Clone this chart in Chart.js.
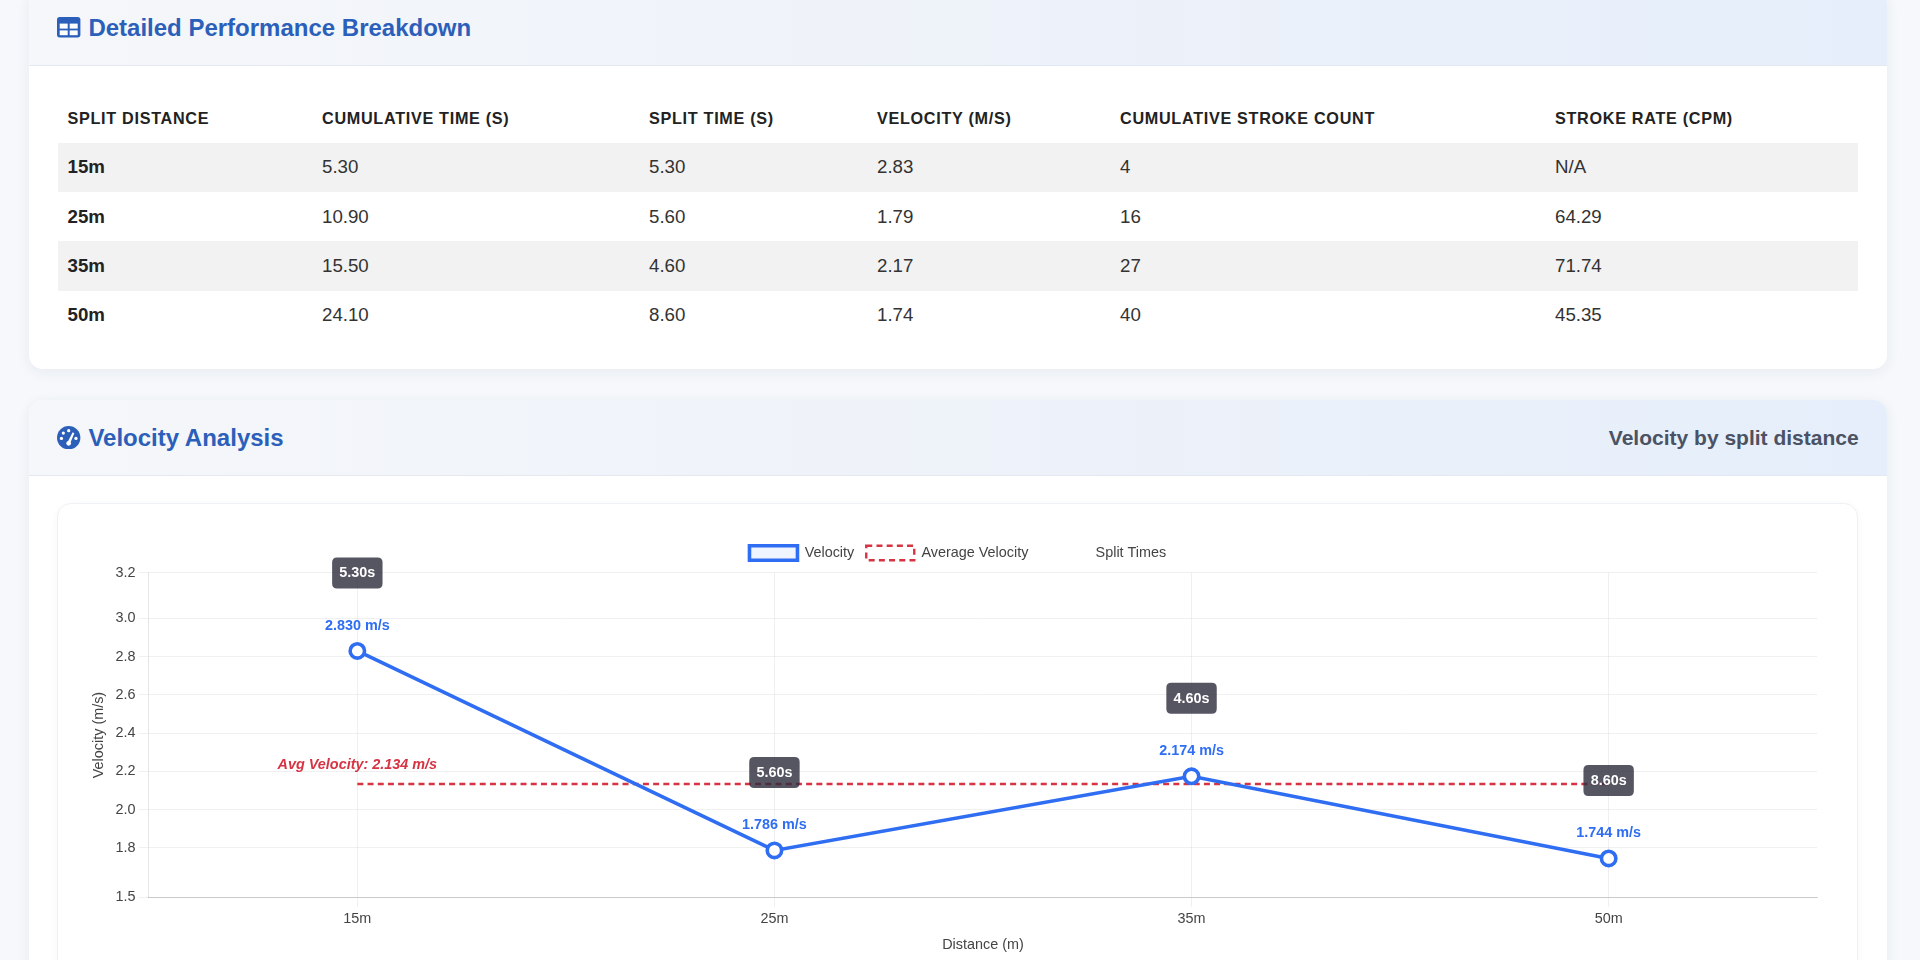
<!DOCTYPE html>
<html>
<head>
<meta charset="utf-8">
<title>Velocity Analysis</title>
<script src="https://cdn.jsdelivr.net/npm/chart.js@4.4.0/dist/chart.umd.min.js"></script>
<style>
  * { box-sizing: border-box; }
  html, body { margin: 0; padding: 0; width: 1920px; height: 960px; overflow: hidden; background: #f6f8fb;
    font-family: "Liberation Sans", Arial, Helvetica, sans-serif; }
  .card { position: absolute; left: 29px; width: 1858px; background: #fff; border-radius: 14px;
    box-shadow: 0 3px 14px rgba(30, 50, 90, 0.07); overflow: hidden; }
  .card-header { height: 76px; border-bottom: 1px solid #e3e8f1;
    background: linear-gradient(90deg, #f5f7fa 0%, #eef2f9 50%, #e5eefa 100%);
    display: flex; align-items: center; justify-content: space-between; padding: 0 28.4px; }
  .card-title { display: flex; align-items: center; margin: 0; font-size: 24px; font-weight: bold; color: #2c5fb9; }
  .card-title svg { margin-right: 7.6px; display: block; }
  .card-sub { font-size: 21px; font-weight: bold; color: #4a5263; }
  #card1 { top: -10px; height: 379.3px; }
  #card2 { top: 400px; height: 700px; }
  table { position: absolute; left: 29px; top: 103.5px; width: 1800px; border-collapse: collapse; table-layout: fixed; }
  th, td { text-align: left; padding: 0 0 0 9.5px; height: 49.3px; white-space: nowrap; }
  th { font-size: 16.2px; font-weight: bold; letter-spacing: 0.7px; text-transform: uppercase; color: #222; }
  td { font-size: 18.7px; color: #333; }
  td.first { font-weight: bold; color: #222; }
  tbody tr:nth-child(odd) { background: #f2f2f2; }
  .chart-box { position: absolute; left: 28px; top: 103.3px; width: 1801.3px; height: 600px; background: #fff;
    border: 1px solid #eef1f5; border-radius: 14px; box-shadow: 0 2px 10px rgba(20, 40, 80, 0.035); }
  .chart-wrap { position: absolute; left: 56.8px; top: 132.1px; width: 1743.7px; height: 430px; }
</style>
</head>
<body>

<div class="card" id="card1">
  <div class="card-header">
    <h2 class="card-title">
      <svg width="23.4" height="20.6" viewBox="0 0 234 206">
        <rect x="0" y="0" width="234" height="206" rx="28" fill="#2c5fb9"/>
        <rect x="27" y="66" width="80" height="50" fill="#fff"/>
        <rect x="127" y="66" width="80" height="50" fill="#fff"/>
        <rect x="27" y="134" width="80" height="48" fill="#fff"/>
        <rect x="127" y="134" width="80" height="48" fill="#fff"/>
      </svg>
      Detailed Performance Breakdown
    </h2>
  </div>
  <table id="perfTable">
    <colgroup>
      <col style="width:254.5px"><col style="width:327px"><col style="width:228px">
      <col style="width:243px"><col style="width:435px"><col style="width:312.5px">
    </colgroup>
    <thead><tr id="headRow"></tr></thead>
    <tbody id="bodyRows"></tbody>
  </table>
</div>

<div class="card" id="card2">
  <div class="card-header">
    <h2 class="card-title">
      <svg width="23.4" height="23.4" viewBox="0 0 100 100">
        <circle cx="50" cy="50" r="50" fill="#2c5fb9"/>
        <circle cx="50" cy="20" r="7" fill="#fff"/>
        <circle cx="27" cy="30" r="7" fill="#fff"/>
        <circle cx="19" cy="53" r="7" fill="#fff"/>
        <circle cx="81" cy="53" r="7" fill="#fff"/>
        <path d="M44 72 L67 27 L74 31 L56 75 Z" fill="#fff"/>
        <circle cx="50" cy="74" r="10" fill="#fff"/>
      </svg>
      Velocity Analysis
    </h2>
    <div class="card-sub">Velocity by split distance</div>
  </div>
  <div class="chart-box"></div>
  <div class="chart-wrap"><canvas id="velocityChart"></canvas></div>
</div>

<script>
// ---------- Data ----------
const categories = ['15m', '25m', '35m', '50m'];
const velocities = [2.830, 1.786, 2.174, 1.744];
const avgVelocity = 2.134;
const avgVelocityLine = [2.134, 2.134, 2.134, 2.134];
const splitTimes = [5.30, 5.60, 4.60, 8.60];
const cumulativeTimes = [5.30, 10.90, 15.50, 24.10];
const strokeCounts = [4, 16, 27, 40];
const strokeRates = ['N/A', '64.29', '71.74', '45.35'];
const tableHeaders = ['Split Distance', 'Cumulative Time (s)', 'Split Time (s)', 'Velocity (m/s)', 'Cumulative Stroke Count', 'Stroke Rate (cpm)'];
const yMin = 1.54;
const yMax = 3.24;
const yStep = 0.2;

// ---------- Table ----------
const headRow = document.getElementById('headRow');
tableHeaders.forEach(h => { const th = document.createElement('th'); th.textContent = h; headRow.appendChild(th); });
const bodyRows = document.getElementById('bodyRows');
categories.forEach((c, i) => {
  const tr = document.createElement('tr');
  const cells = [c, cumulativeTimes[i].toFixed(2), splitTimes[i].toFixed(2), velocities[i].toFixed(2), String(strokeCounts[i]), strokeRates[i]];
  cells.forEach((v, j) => {
    const td = document.createElement('td');
    td.textContent = v;
    if (j === 0) td.className = 'first';
    tr.appendChild(td);
  });
  bodyRows.appendChild(tr);
});

// ---------- Chart ----------
const BLUE = '#2f6df3';
const RED = '#d63343';
const FONT = '"Liberation Sans", Arial, Helvetica, sans-serif';
Chart.defaults.font.family = FONT;
Chart.defaults.font.size = 14.4;
Chart.defaults.color = '#454545';

const legendSpacer = {
  id: 'legendSpacer',
  afterInit(chart) {
    const lg = chart.legend;
    if (lg && !lg._patched) {
      const f = lg.fit;
      lg.fit = function () { f.call(this); this.height += 2.4; };
      lg._patched = true;
    }
  }
};

function roundRect(ctx, x, y, w, h, r) {
  ctx.beginPath();
  ctx.moveTo(x + r, y);
  ctx.lineTo(x + w - r, y);
  ctx.quadraticCurveTo(x + w, y, x + w, y + r);
  ctx.lineTo(x + w, y + h - r);
  ctx.quadraticCurveTo(x + w, y + h, x + w - r, y + h);
  ctx.lineTo(x + r, y + h);
  ctx.quadraticCurveTo(x, y + h, x, y + h - r);
  ctx.lineTo(x, y + r);
  ctx.quadraticCurveTo(x, y, x + r, y);
  ctx.closePath();
}

const labelPlugin = {
  id: 'valueLabels',
  afterDatasetsDraw(chart) {
    const ctx = chart.ctx;
    const velMeta = chart.getDatasetMeta(0);
    const avgMeta = chart.getDatasetMeta(1);
    ctx.save();
    ctx.textAlign = 'center';
    ctx.textBaseline = 'middle';
    // average label
    const a0 = avgMeta.data[0];
    ctx.font = 'italic bold 14.4px ' + FONT;
    ctx.fillStyle = RED;
    ctx.fillText('Avg Velocity: ' + avgVelocity.toFixed(3) + ' m/s', a0.x, a0.y - 18.7);
    velMeta.data.forEach((pt, i) => {
      ctx.font = 'bold 14.4px ' + FONT;
      ctx.fillStyle = BLUE;
      ctx.fillText(velocities[i].toFixed(3) + ' m/s', pt.x, pt.y - 25);
      const txt = splitTimes[i].toFixed(2) + 's';
      const w = ctx.measureText(txt).width + 14.4;
      const h = 31;
      const cy = pt.y - 78;
      roundRect(ctx, pt.x - w / 2, cy - h / 2, w, h, 5);
      ctx.fillStyle = 'rgba(44, 44, 60, 0.8)';
      ctx.fill();
      ctx.fillStyle = '#ffffff';
      ctx.fillText(txt, pt.x, cy + 0.5);
    });
    ctx.restore();
  }
};

new Chart(document.getElementById('velocityChart'), {
  type: 'line',
  data: {
    labels: categories,
    datasets: [
      {
        label: 'Velocity',
        data: velocities,
        borderColor: BLUE,
        backgroundColor: 'rgba(47, 109, 243, 0.08)',
        borderWidth: 3.6,
        pointRadius: 7.2,
        pointBorderWidth: 3.6,
        pointBorderColor: BLUE,
        pointBackgroundColor: '#ffffff',
        fill: false,
        tension: 0
      },
      {
        label: 'Average Velocity',
        data: avgVelocityLine,
        borderColor: RED,
        backgroundColor: 'rgba(0,0,0,0)',
        borderWidth: 2.4,
        borderDash: [6, 4.2],
        pointRadius: 0,
        fill: false
      },
      {
        label: 'Split Times',
        data: splitTimes,
        yAxisID: 'ySplit',
        borderColor: 'rgba(0,0,0,0)',
        backgroundColor: 'rgba(0,0,0,0)',
        borderWidth: 0,
        pointRadius: 0,
        showLine: false
      }
    ]
  },
  options: {
    responsive: true,
    maintainAspectRatio: false,
    animation: false,
    layout: { padding: { left: 0, top: 1.8, right: 0, bottom: 3.6 } },
    plugins: {
      legend: {
        position: 'top',
        labels: { boxWidth: 48, boxHeight: 14.4, padding: 12, color: '#444', font: { size: 14.4 } }
      },
      tooltip: { enabled: false }
    },
    scales: {
      x: {
        offset: true,
        grid: { offset: false, color: 'rgba(0,0,0,0.06)', tickLength: 9.6 },
        border: { color: 'rgba(0,0,0,0.16)' },
        ticks: { padding: 3.6, color: '#444', font: { size: 14.4 } },
        title: { display: true, text: 'Distance (m)', color: '#444', font: { size: 14.4 }, padding: { top: 4.8, bottom: 4.8 } }
      },
      y: {
        min: yMin,
        max: yMax,
        ticks: { stepSize: yStep, padding: 3.6, color: '#444', font: { size: 14.4 },
          callback: v => Number(v).toFixed(1) },
        grid: { color: 'rgba(0,0,0,0.06)', tickLength: 9.6 },
        border: { color: 'rgba(0,0,0,0.1)' },
        title: { display: true, text: 'Velocity (m/s)', color: '#444', font: { size: 14.4 }, padding: { top: 4.8, bottom: 3.9 } }
      },
      ySplit: {
        display: true,
        position: 'right',
        min: 0,
        max: 10,
        ticks: { display: false },
        grid: { drawOnChartArea: false, drawTicks: true, tickLength: 12.5, color: 'rgba(0,0,0,0)' },
        border: { display: false }
      }
    }
  },
  plugins: [legendSpacer, labelPlugin]
});
</script>
</body>
</html>
